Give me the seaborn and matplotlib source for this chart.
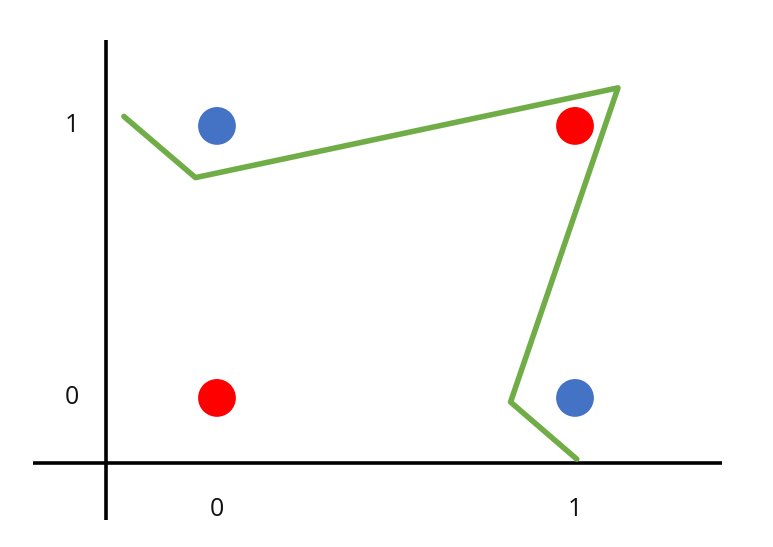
import matplotlib
matplotlib.use("Agg")
import matplotlib.pyplot as plt
import seaborn as sns
import pandas as pd

# XOR points
px = [0, 1, 0, 1]
py = [1, 1, 0, 0]
cls = ["blue", "red", "red", "blue"]

# green decision boundary (hand-drawn polyline)
line_x = [-0.26, -0.06, 1.12, 0.82, 1.005]
line_y = [1.035, 0.81, 1.14, -0.015, -0.225]

tick_vals = [0, 1]
tick_labels = ["0", "1"]

sns.set_theme(style="white")
plt.rcParams["font.family"] = ["Open Sans", "DejaVu Sans"]

fig = plt.figure(figsize=(7.73, 5.47), dpi=100)
ax = fig.add_axes([0, 0, 1, 1])
ax.set_xlim(-0.606, 1.553)
ax.set_ylim(-0.548, 1.463)
ax.set_axis_off()

# axes drawn as plain lines
ax.plot([-0.31, -0.31], [-0.449, 1.316], color="black", lw=2.6, solid_capstyle="butt")
ax.plot([-0.514, 1.411], [-0.239, -0.239], color="black", lw=2.6, solid_capstyle="butt")

df = pd.DataFrame({"x": px, "y": py, "c": cls})
sns.scatterplot(data=df, x="x", y="y", hue="c",
                palette={"blue": "#4472C4", "red": "#FF0000"},
                s=740, edgecolor="none", legend=False, ax=ax, zorder=3)

sns.lineplot(x=line_x, y=line_y, sort=False, color="#70AD47", lw=4.0,
             estimator=None, ax=ax, zorder=4)

for v, lab in zip(tick_vals, tick_labels):
    ax.text(v, -0.41, lab, ha="center", va="center", fontsize=18, color="#111111")
    ax.text(-0.405, v, lab, ha="center", va="center", fontsize=18, color="#111111")

fig.savefig("out.png", dpi=100)
